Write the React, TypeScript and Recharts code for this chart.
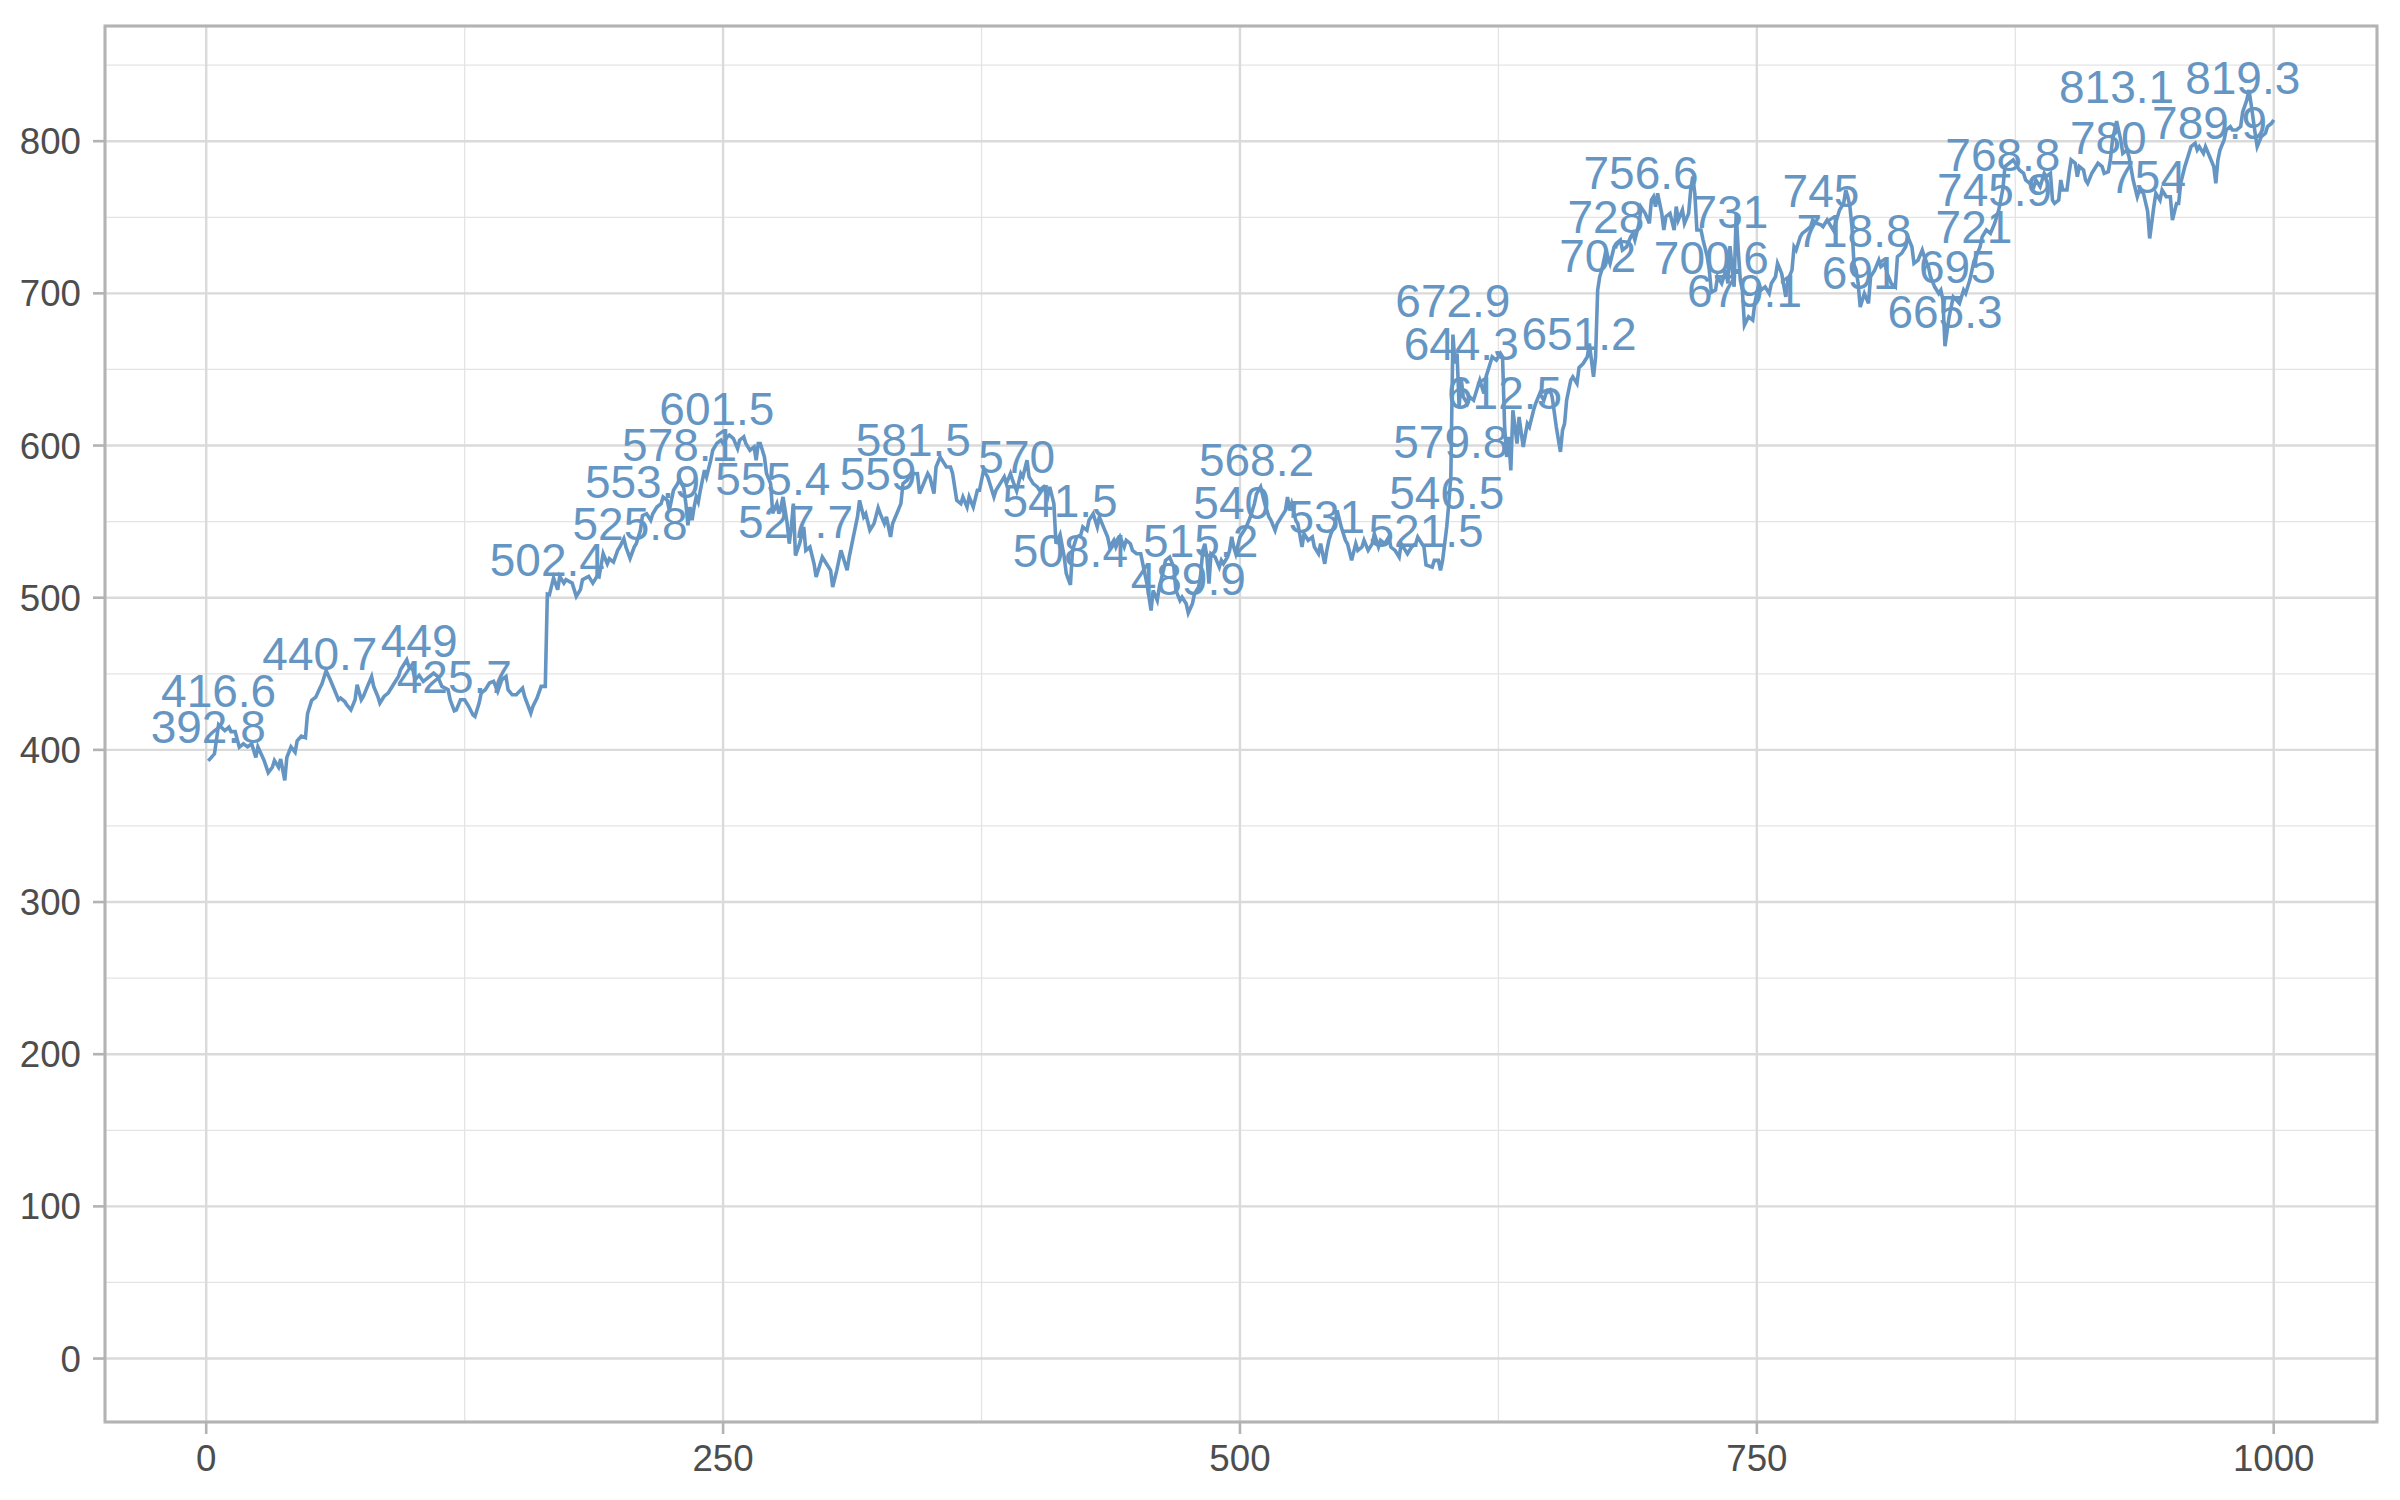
import React from "react";
import {
  ComposedChart,
  Line,
  XAxis,
  YAxis,
  CartesianGrid,
  ReferenceArea,
  LabelList,
} from "recharts";

// x positions (steps) of the walk
const steps1 = [1, 4, 6, 9, 11, 12, 14, 16, 18, 20, 22, 24, 25, 28, 30, 32, 33, 35, 36, 38, 39, 41, 43, 44, 46, 48, 49, 51, 53, 55, 56, 58, 60, 62, 64, 65, 67, 68, 70, 72, 73, 75, 76, 78, 80, 81, 83, 84, 86, 88, 89, 91, 93, 94, 97, 98, 100, 101, 103, 105, 108, 110, 112, 114, 117, 118, 120, 121, 123, 125, 127, 129, 130, 132, 133, 135, 137, 139, 141, 143, 145, 146, 148, 150, 153, 154, 157, 158, 160, 162, 164, 165, 166, 168, 170, 171, 173, 174, 177, 179, 181, 182, 185, 187, 189];
const values1 = [392.8, 397.4, 416.6, 412.7, 414.9, 412, 412, 401.8, 404, 402, 404, 395, 402, 393, 385, 388.6, 393, 388.6, 394, 380, 395, 402, 398.5, 406, 409, 408, 423.7, 432.5, 434.6, 440.7, 443.4, 452, 446.1, 439.5, 432.9, 434, 431.8, 429.6, 426.3, 432.9, 442.8, 432.9, 435.1, 441.7, 448.2, 441.7, 435.1, 430.7, 435.1, 437.3, 439.5, 443.9, 448.2, 452.6, 459.2, 454.8, 452.6, 446.1, 449, 445, 448.2, 450.4, 448.2, 441.7, 439.5, 432.9, 425.7, 426.3, 432.9, 432.9, 428.5, 423, 421.9, 430.7, 437.3, 439.5, 443.9, 445, 438.4, 446.1, 448.2, 439.5, 436.2, 436.2, 440.6, 435.1, 424.1, 428.5, 434, 441.7, 441.7, 502.4, 502, 513, 505.3, 514, 509.6, 511.8, 509.6, 500.9, 505.3, 511.8, 514, 509.6, 514];

const steps2 = [190, 192, 194, 195, 197, 199, 200, 202, 203, 205, 207, 208, 210, 211, 213, 215, 216, 218, 220, 221, 223, 224, 226, 228, 229, 230, 231, 232, 233, 234, 235, 236, 237, 238, 239, 241, 242, 244, 245, 247, 249, 250, 252, 253, 255, 257, 258, 260, 261, 263, 265, 266, 267, 268, 270, 271, 273, 274, 276, 277, 278, 279, 281, 282, 283, 284, 285, 287, 289, 290, 292, 294, 295, 297, 298, 300, 302, 303, 305, 307, 308, 310, 311, 313, 315, 316, 318, 319, 321, 323, 325, 326, 328, 329, 331, 332, 334, 336, 337, 339, 340, 342, 344, 345, 347, 349, 350, 352, 353, 355, 357, 358, 360, 361, 363, 365, 366, 368, 369, 371, 373, 374, 376, 378, 379, 381, 382, 384, 386, 387, 389, 390, 392, 394, 395, 397, 398, 400, 402, 403, 405, 407, 408, 410, 411, 413, 415, 416, 418, 419, 421, 423, 424, 426, 427, 429, 431, 432];
const values2 = [513.6, 528.9, 522.3, 525.6, 523.4, 531.1, 533.3, 538.8, 533.3, 525.8, 533.3, 535.5, 544.3, 553.9, 555.2, 550.9, 555.2, 559.6, 561.8, 566.2, 564, 557.4, 570.6, 575, 578.1, 575, 572, 561.8, 547.6, 559.6, 550.9, 559.6, 566.2, 562.9, 570.6, 583.8, 579.4, 590.3, 596.9, 601.5, 603.5, 601.3, 605.7, 606.8, 604.6, 598, 603.5, 605.7, 601.3, 596.9, 599.1, 590.3, 601.3, 601.3, 592.5, 581.6, 575, 555.4, 561.8, 555.2, 559.6, 566.2, 548.7, 535.5, 546.5, 561.8, 527.7, 535.5, 546.5, 531.1, 533.3, 522.3, 513.6, 522.3, 526.7, 522.3, 518, 507, 518, 531.1, 526.7, 518, 526.7, 539.9, 553.1, 564, 553.1, 555.2, 544.3, 548.7, 559, 555.2, 548.7, 553.1, 539.9, 548.7, 555.2, 561.8, 575, 577.2, 579.4, 581.5, 581.6, 568.4, 575, 581.6, 579.4, 568.4, 585.9, 592.5, 588.1, 585.9, 585.9, 581.6, 564, 561.8, 566.2, 559.6, 566.2, 559.6, 570.6, 570.6, 583.8, 579.4, 575, 566.2, 570.6, 575, 579.4, 575, 581.6, 577.2, 570, 581.6, 579.4, 590.3, 579.4, 575, 572.8, 570.6, 572.8, 566.2, 572.8, 561.8, 535.5, 541.5, 526.7, 515.8, 508.4, 531.1, 539.9, 541.3, 546.5, 544.3, 550.9, 555.2, 546.5, 553.1];

const steps3 = [434, 436, 437, 439, 440, 442, 444, 445, 447, 448, 450, 452, 453, 455, 456, 457, 458, 460, 461, 463, 464, 466, 468, 469, 471, 472, 474, 475, 477, 478, 480, 481, 482, 483, 484, 485, 486, 488, 490, 491, 492, 494, 495, 496, 497, 498, 500, 502, 503, 505, 506, 507, 508, 509, 510, 512, 514, 515, 517, 518, 520, 522, 523, 524, 525, 527, 528, 530, 531, 533, 535, 536, 538, 539, 541, 542, 543, 544, 546, 547, 549, 551, 552, 554, 556, 557, 559, 560, 562, 564, 565, 567, 568, 570, 572, 573, 575, 577, 578, 580, 581, 583, 585, 586, 588, 589, 590, 593, 594, 596, 597, 598, 600, 601, 602, 603, 604, 605, 606, 607, 608, 610, 611, 613, 614, 616, 618, 619, 621, 622, 624, 626, 627, 628, 629, 630, 631, 632, 634, 635, 637, 639, 640, 642, 643, 645, 647, 648, 650, 651, 653, 655, 656, 657, 658, 660, 661, 663, 664, 666, 668, 669, 670, 671, 672, 673];
const values3 = [546.4, 539.9, 533.3, 537.7, 533.3, 539.9, 533.3, 537.7, 535.5, 531.1, 528.9, 528.9, 522.3, 509.2, 500.4, 491.6, 504.8, 498.2, 507, 517.9, 524.5, 526.7, 520.1, 504.8, 498.2, 500.4, 496, 489.9, 496, 502.6, 507, 515.2, 531.1, 535.5, 526.7, 509.2, 528.9, 526.7, 520.1, 524.5, 522.3, 526.7, 531.1, 540, 533.3, 528.9, 539.9, 544.2, 546.4, 553, 557.4, 561.8, 568.2, 570.6, 572.8, 561.8, 553, 550.8, 544.2, 548.6, 553, 557.4, 566.2, 557.4, 561.8, 550.8, 548.6, 533.3, 542, 537.7, 539.9, 533.3, 528.9, 535.5, 522.3, 531, 537.7, 542, 548.6, 557.4, 546.4, 537.7, 535.5, 524.5, 535.5, 531.1, 533.3, 537.7, 531.1, 535.5, 542, 533.3, 537.7, 535.5, 539.9, 533.3, 531.1, 526.7, 535.5, 531.1, 528.9, 533.3, 535.5, 539.9, 535.5, 533.3, 521.5, 520.1, 524.5, 524.5, 517.9, 524.5, 546.5, 561.8, 579.8, 672.9, 653.9, 660.5, 625.4, 644.3, 632, 627.6, 632, 629.8, 634.2, 642.9, 634.2, 645.1, 653.9, 658.3, 656.1, 660.5, 658.3, 612.5, 592.5, 605.7, 583.7, 623.2, 601.3, 618.8, 599.1, 614.4, 612.2, 623.2, 627.6, 634.2, 629.8, 634.2, 636.4, 632, 612.2, 595.8, 610, 614.4, 629.8, 642.9, 645.1, 640.7, 651.2, 653.9, 658.3, 667.1, 656.1, 645.1, 658.3, 702];

const steps4 = [674, 675, 677, 679, 681, 682, 684, 685, 687, 689, 690, 691, 693, 694, 696, 698, 699, 700, 701, 702, 704, 705, 706, 708, 710, 711, 712, 714, 715, 717, 718, 719, 720, 721, 723, 724, 726, 727, 728, 730, 731, 733, 735, 736, 737, 739, 740, 741, 742, 743, 744, 746, 748, 749, 751, 752, 754, 756, 757, 759, 760, 762, 764, 765, 767, 768, 769, 771, 772, 774, 776, 777, 779, 781, 782, 784, 785, 787, 789, 790, 792, 793, 794, 795, 796, 797, 798, 799, 800, 802, 804, 805, 807, 809, 810, 812, 813, 815, 817, 818, 820, 822, 823, 825, 826, 828, 830, 831, 833, 834, 836, 838, 839, 840, 841, 843, 845, 847, 848, 850, 851, 853, 855, 856, 858, 859, 861, 863, 865, 866, 867];
const values4 = [710.9, 715.3, 728, 719.7, 730.6, 732.8, 735, 728.5, 730.6, 737.2, 739.4, 735, 746, 756.6, 752.6, 746, 761.3, 763.5, 757, 765.7, 752.6, 741.6, 750.4, 752.6, 741.6, 757, 748.2, 754.8, 746, 752.6, 767.9, 776.7, 765.7, 741.6, 741.6, 735, 724.1, 715.3, 700.6, 702.1, 710.9, 706.5, 715.3, 706.5, 731, 704.3, 752.6, 728.5, 708.7, 702.1, 679.1, 684.6, 682.4, 693.4, 706.5, 702.1, 704.3, 699.9, 706.5, 710.9, 719.7, 713.1, 697.7, 708.7, 715.3, 730.6, 728.5, 737.2, 739.4, 741.6, 743.8, 748.2, 746, 745, 743.8, 748.2, 746, 741.6, 750.4, 754.8, 759.2, 767.9, 763.5, 757, 743.8, 718.8, 715.3, 706.5, 691, 699.9, 693.4, 710.9, 715.3, 721.9, 717.5, 719.7, 713.1, 706.5, 704.3, 724.1, 726.3, 730.6, 737.2, 730.6, 719.7, 721.9, 728.5, 724.1, 717.5, 710.9, 704.3, 699.9, 702.1, 695.6, 665.3, 684.6, 697.7, 695, 693.4, 702.1, 699.9, 708.7, 721, 724.1, 730.6, 737.2, 741.6, 739.4, 745.9, 750.4, 754.8];

const steps5 = [869, 870, 872, 874, 876, 877, 879, 880, 882, 884, 885, 887, 889, 890, 892, 893, 894, 896, 897, 898, 900, 901, 902, 904, 905, 906, 908, 909, 910, 912, 913, 915, 917, 918, 920, 921, 922, 924, 926, 927, 929, 930, 932, 934, 935, 937, 939, 940, 942, 943, 945, 946, 948, 950, 951, 953, 954, 955, 957, 959, 960, 962, 963, 964, 966, 967, 969, 971, 972, 973, 974, 976, 977, 979, 980, 982, 984, 985, 987, 988, 989, 991, 992, 994, 996, 997, 999, 1000];
const values5 = [768.8, 783.3, 785.5, 787.7, 783.3, 781.1, 778.9, 774.5, 772.3, 770.1, 774.5, 770.1, 778.9, 776.7, 778.9, 761.3, 759.1, 761.3, 774.5, 767.9, 767.9, 778.9, 787.7, 785.5, 776.7, 783.3, 781.1, 774.5, 772.3, 778.9, 781.1, 785.5, 783.3, 778.9, 780, 787.7, 800.8, 813.1, 800.8, 792, 794.2, 789.8, 774.5, 763.5, 767.9, 765.7, 754, 736.1, 756.9, 765.7, 761.3, 767.9, 763.5, 763.5, 748.2, 759.1, 759.1, 772.3, 783.3, 792, 796.4, 798.6, 794.2, 796.4, 792, 796.4, 789.9, 783.3, 772.3, 787.7, 794.2, 800.8, 807.4, 809.6, 807.4, 807.4, 809.6, 819.3, 827.1, 833.7, 824.9, 805.2, 796.4, 803, 805.2, 809.6, 811.8, 814];

// labelled points (step and printed text)
const labelSteps = [1, 6, 55, 103, 120, 165, 205, 211, 229, 247, 274, 285, 325, 342, 392, 413, 418, 475, 481, 496, 508, 542, 590, 600, 602, 603, 607, 628, 664, 673, 677, 694, 728, 737, 744, 781, 797, 800, 841, 847, 855, 865, 869, 920, 924, 939, 969, 985];
const labelTexts = ["392.8", "416.6", "440.7", "449", "425.7", "502.4", "525.8", "553.9", "578.1", "601.5", "555.4", "527.7", "559", "581.5", "570", "541.5", "508.4", "489.9", "515.2", "540", "568.2", "531", "521.5", "546.5", "579.8", "672.9", "644.3", "612.5", "651.2", "702", "728", "756.6", "700.6", "731", "679.1", "745", "718.8", "691", "665.3", "695", "721", "745.9", "768.8", "780", "813.1", "754", "789.9", "819.3"];

const xTicks = [0, 250, 500, 750, 1000];
const xMinor = [125, 375, 625, 875];
const yTicks = [0, 100, 200, 300, 400, 500, 600, 700, 800];
const yMinor = [50, 150, 250, 350, 450, 550, 650, 750, 850];

const xDomain = [-48.95, 1049.95];
const yDomain = [-41.7, 875.7];

const allSteps = [...steps1, ...steps2, ...steps3, ...steps4, ...steps5];
const allValues = [...values1, ...values2, ...values3, ...values4, ...values5];

const data = allSteps.map((s, i) => {
  const li = labelSteps.indexOf(s);
  return { x: s, y: allValues[i], lab: li >= 0 ? labelTexts[li] : undefined };
});

const FONT = "'Liberation Sans', Arial, Helvetica, sans-serif";
const BLUE = "#6596C3";

const renderLabel = (props: any) => {
  const { x, y, value } = props;
  if (value === undefined || value === null || value === "") return null;
  return (
    <text
      x={x}
      y={y - 18}
      textAnchor="middle"
      fontSize={46}
      fontFamily={FONT}
      fill={BLUE}
    >
      {value}
    </text>
  );
};

export default function App() {
  return (
    <div style={{ position: "absolute", left: 0, top: 0, background: "#fff" }}>
      <ComposedChart
        width={2400}
        height={1500}
        data={data}
        margin={{ top: 26, right: 23, bottom: 0, left: 0 }}
      >
        <XAxis
          xAxisId="minor"
          type="number"
          dataKey="x"
          domain={xDomain}
          ticks={xMinor}
          allowDataOverflow
          hide
        />
        <YAxis
          yAxisId="minor"
          type="number"
          domain={yDomain}
          ticks={yMinor}
          allowDataOverflow
          hide
        />
        <CartesianGrid
          xAxisId="minor"
          yAxisId="minor"
          stroke="#E4E4E4"
          strokeWidth={1.3}
        />
        <CartesianGrid stroke="#DADADA" strokeWidth={2.4} />
        <XAxis
          type="number"
          dataKey="x"
          domain={xDomain}
          ticks={xTicks}
          allowDataOverflow
          height={78}
          axisLine={false}
          tickSize={12}
          tickMargin={11}
          tickLine={{ stroke: "#B3B3B3", strokeWidth: 2.6 }}
          tick={{ fontSize: 36.7, fill: "#4D4D4D", fontFamily: FONT }}
        />
        <YAxis
          type="number"
          domain={yDomain}
          ticks={yTicks}
          allowDataOverflow
          width={105}
          axisLine={false}
          tickSize={12}
          tickMargin={12}
          tickLine={{ stroke: "#B3B3B3", strokeWidth: 2.6 }}
          tick={{ fontSize: 36.7, fill: "#4D4D4D", fontFamily: FONT }}
        />
        <ReferenceArea
          x1={xDomain[0]}
          x2={xDomain[1]}
          y1={yDomain[0]}
          y2={yDomain[1]}
          fill="none"
          stroke="#B3B3B3"
          strokeWidth={3}
          ifOverflow="visible"
        />
        <Line
          type="linear"
          dataKey="y"
          stroke={BLUE}
          strokeWidth={3.6}
          dot={false}
          activeDot={false}
          isAnimationActive={false}
        >
          <LabelList dataKey="lab" content={renderLabel} />
        </Line>
      </ComposedChart>
    </div>
  );
}
